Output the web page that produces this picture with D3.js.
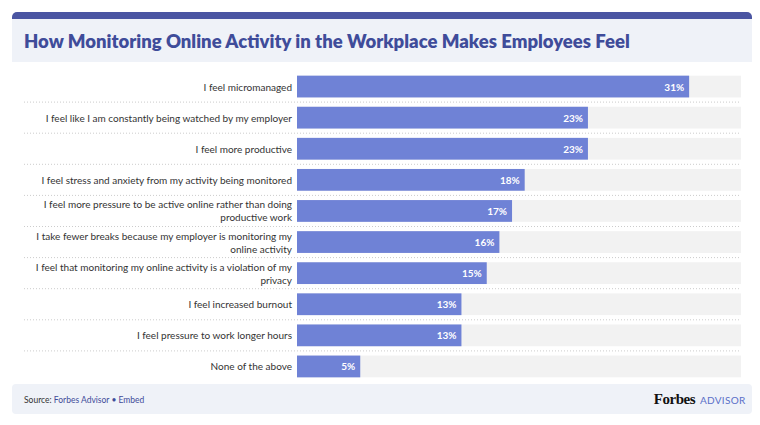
<!DOCTYPE html><html><head><meta charset="utf-8"><script src="https://cdn.jsdelivr.net/npm/d3@7"></script>
<style>body{margin:0;background:#fff;font-family:Lato,"Open Sans",sans-serif}</style></head><body><svg id="c" width="760" height="425"></svg>
<script>
const categories=[["I feel micromanaged"],["I feel like I am constantly being watched by my employer"],["I feel more productive"],["I feel stress and anxiety from my activity being monitored"],["I feel more pressure to be active online rather than doing","productive work"],["I take fewer breaks because my employer is monitoring my","online activity"],["I feel that monitoring my online activity is a violation of my","privacy"],["I feel increased burnout"],["I feel pressure to work longer hours"],["None of the above"]];
const values=[31,23,23,18,17,16,15,13,13,5];
const svg=d3.select("#c");
svg.append("rect").attr("x",12).attr("y",12).attr("width",740).attr("height",14).attr("rx",5).attr("fill","#4a55a2");
svg.append("rect").attr("x",12).attr("y",19).attr("width",740).attr("height",43).attr("fill","#eff2f8");
svg.append("text").attr("x",24).attr("y",48).attr("font-size",18.5).attr("font-weight",800).attr("fill","#3f4c9a").attr("font-family","Lato").text("How Monitoring Online Activity in the Workplace Makes Employees Feel");
const x=d3.scaleLinear().domain([0,35.1]).range([297,741]);
const y=d3.scaleBand().domain(d3.range(values.length)).range([71,382]).paddingInner(0.3).paddingOuter(0.15);
const g=svg.append("g");
values.forEach((v,i)=>{
 const yy=y(i),h=y.bandwidth();
 g.append("rect").attr("x",x(0)).attr("y",yy).attr("width",x(35.1)-x(0)).attr("height",h).attr("fill","#f2f2f2");
 g.append("rect").attr("x",x(0)).attr("y",yy).attr("width",x(v)-x(0)).attr("height",h).attr("fill","#6f82d6");
 g.append("text").attr("x",x(v)-5).attr("y",yy+h/2+4).attr("text-anchor","end").attr("font-size",10).attr("font-weight",700).attr("fill","#fff").text(v+"%");
 const lines=categories[i];
 lines.forEach((t,j)=>g.append("text").attr("x",292).attr("y",yy+h/2+4+(j-(lines.length-1)/2)*13).attr("text-anchor","end").attr("font-size",10).attr("fill","#333").text(t));
 if(i<values.length-1){const ly=yy+h+y.step()*0.15;g.append("line").attr("x1",24).attr("x2",741).attr("y1",ly).attr("y2",ly).attr("stroke","#ccc").attr("stroke-dasharray","1,2");}
});
svg.append("rect").attr("x",12).attr("y",384).attr("width",740).attr("height",30).attr("rx",4).attr("fill","#eff2f8");
const s=svg.append("text").attr("x",24).attr("y",403).attr("font-size",8.5).attr("fill","#333");
s.append("tspan").text("Source: ");s.append("tspan").attr("fill","#3f4c9a").text("Forbes Advisor • Embed");
svg.append("text").attr("x",695).attr("y",404).attr("text-anchor","end").attr("font-family","Liberation Serif").attr("font-weight",700).attr("font-size",15).attr("letter-spacing",-0.5).attr("fill","#111").text("Forbes");
svg.append("text").attr("x",700).attr("y",404).attr("font-size",10).attr("fill","#5a6fc8").attr("letter-spacing",0.3).text("ADVISOR");
</script></body></html>
